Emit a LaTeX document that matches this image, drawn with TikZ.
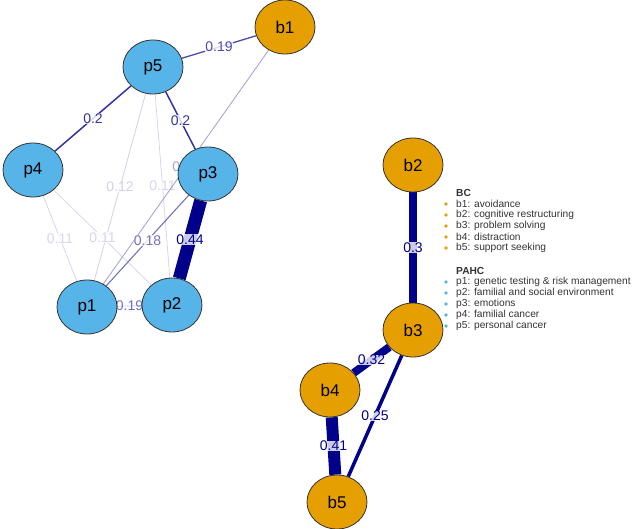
\documentclass[tikz,border=0pt]{standalone}
\usepackage{fontspec}
\setmainfont{Liberation Sans}
\usetikzlibrary{shapes.geometric,backgrounds}
\definecolor{pblue}{HTML}{56B4E9}
\definecolor{borange}{HTML}{E69F00}
\definecolor{enavy}{HTML}{00008B}
\tikzset{
  pnode/.style={ellipse,draw=black!80,line width=0.8pt,fill=pblue,minimum width=60pt,minimum height=54pt,inner sep=0pt,font=\fontsize{17}{17}\selectfont},
  bnode/.style={pnode,fill=borange},
  wedge/.style args={#1/#2}{color=enavy!#1,line width=#2pt},
  lbl/.style={font=\fontsize{14}{14}\selectfont,inner sep=0.3pt,fill=white,fill opacity=0.8,text opacity=1},
  legtext/.style={anchor=west,font=\fontsize{10.2}{10.2}\selectfont,inner sep=0pt,text=black!80},
}
\begin{document}
\begin{tikzpicture}[x=1pt,y=-1pt]
	\useasboundingbox (0,0) rectangle (632,529);
	% PAHC nodes
	\node[pnode] (p5) at (153,67) {p5};
	\node[pnode] (p4) at (33,170) {p4};
	\node[pnode] (p3) at (208,174) {p3};
	\node[pnode] (p1) at (87,307) {p1};
	\node[pnode] (p2) at (172,305) {p2};
	% BC nodes
	\node[bnode] (b1) at (285,27) {b1};
	\node[bnode] (b2) at (413,165) {b2};
	\node[bnode] (b3) at (413,330) {b3};
	\node[bnode] (b4) at (330,390) {b4};
	\node[bnode] (b5) at (337,502) {b5};
	
	\begin{scope}[on background layer]
	\draw[wedge=18/0.8] (p5) -- node[lbl]{0.12} (p1);
	\draw[wedge=16/0.8] (p5) -- node[lbl]{0.11} (p2);
	\draw[wedge=16/0.8] (p4) -- node[lbl]{0.11} (p1);
	\draw[wedge=16/0.8] (p4) -- node[lbl]{0.11} (p2);
	\draw[wedge=35/0.9] (b1) -- node[lbl]{0.13} (p1);
	\draw[wedge=55/1.1] (p3) -- node[lbl]{0.18} (p1);
	\draw[wedge=55/1.2] (p1) -- node[lbl]{0.19} (p2);
	\draw[wedge=70/1.3] (p5) -- node[lbl]{0.19} (b1);
	\draw[wedge=80/1.5] (p5) -- node[lbl]{0.2} (p4);
	\draw[wedge=80/1.5] (p5) -- node[lbl]{0.2} (p3);
	\draw[wedge=100/13] (p3) -- node[lbl]{0.44} (p2);
	
	\draw[wedge=100/8] (b2) -- node[lbl]{0.3} (b3);
	\draw[wedge=100/8] (b3) -- node[lbl]{0.32} (b4);
	\draw[wedge=100/3.5] (b3) -- node[lbl]{0.25} (b5);
	\draw[wedge=100/12] (b4) -- node[lbl]{0.41} (b5);
	\end{scope}
	
	% legend
	\node[legtext,font=\fontsize{10.2}{10.2}\selectfont\bfseries] (leg-bc) at (456,193) {BC};
	\foreach \k/\txt [count=\i] in {b1/avoidance,b2/cognitive restructuring,b3/problem solving,b4/distraction,b5/support seeking}{
		\fill[borange] (446,{193+11*\i}) circle (1.8pt);
		\node[legtext] (leg-\k) at (456,{193+11*\i}) {\k: \txt};
	}
	\node[legtext,font=\fontsize{10.2}{10.2}\selectfont\bfseries] (leg-pahc) at (456,271) {PAHC};
	\foreach \k/\txt [count=\i] in {p1/genetic testing \& risk management,p2/familial and social environment,p3/emotions,p4/familial cancer,p5/personal cancer}{
		\fill[pblue] (446,{271+11*\i}) circle (1.8pt);
		\node[legtext] (leg-\k) at (456,{271+11*\i}) {\k: \txt};
	}
\end{tikzpicture}
\end{document}
